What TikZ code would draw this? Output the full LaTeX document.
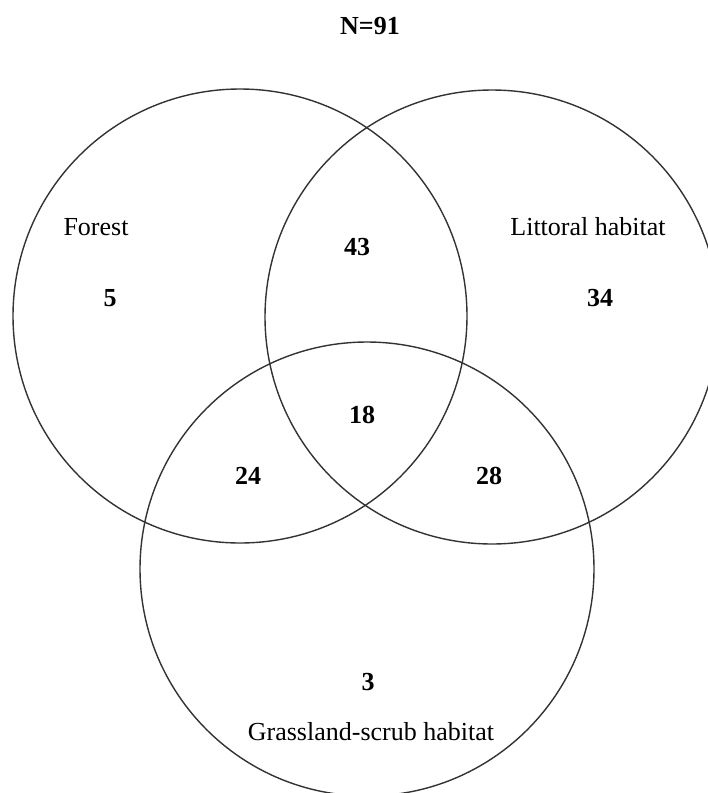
\documentclass[tikz,border=0pt]{standalone}
\usepackage{fontspec}
\setmainfont{Liberation Serif}
\begin{document}
\begin{tikzpicture}[x=1pt,y=-1pt,
  setcirc/.style={circle,draw=black!80,line width=1.4pt,minimum size=454pt,inner sep=0pt},
  setname/.style={font=\fontsize{26}{30}\selectfont,inner sep=0pt},
  count/.style={font=\fontsize{26}{30}\selectfont\bfseries,inner sep=0pt}]
  \path[use as bounding box,clip] (0,0) rectangle (708,793);
  \fill[white] (0,0) rectangle (708,793);

  % the three sets
  \node[setcirc] (forest) at (240,316) {};
  \node[setcirc] (littoral) at (492,317) {};
  \node[setcirc] (grass) at (367,569) {};

  % title
  \node[count] (total) at (370,26) {N=91};

  % set names
  \node[setname] (lforest) at (96,227) {Forest};
  \node[setname] (llittoral) at (588,227) {Littoral habitat};
  \node[setname] (lgrass) at (371,732) {Grassland-scrub habitat};

  % region counts
  \node[count] (nf) at (110,298) {5};
  \node[count] (nfl) at (357,247) {43};
  \node[count] (nl) at (600,298) {34};
  \node[count] (nall) at (362,415) {18};
  \node[count] (nfg) at (248,476) {24};
  \node[count] (nlg) at (489,476) {28};
  \node[count] (ng) at (368,682) {3};
\end{tikzpicture}
\end{document}
